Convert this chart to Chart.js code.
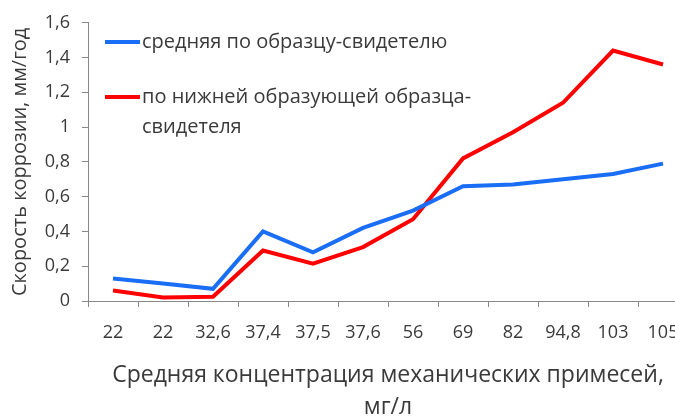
<!DOCTYPE html>
<html>
<head>
<meta charset="utf-8">
<script src="https://cdn.jsdelivr.net/npm/chart.js@4"></script>
<style>
html,body{margin:0;padding:0;background:#fff;overflow:hidden;width:675px;height:416px;}
#wrap{position:absolute;left:0;top:0;width:700px;height:430px;}
</style>
</head>
<body>
<div id="wrap"><canvas id="c" width="700" height="430"></canvas></div>
<script>
const categories = ["22","22","32,6","37,4","37,5","37,6","56","69","82","94,8","103","105"];
const averageSeries = [0.13,0.10,0.07,0.40,0.28,0.42,0.52,0.66,0.67,0.70,0.73,0.79];
const bottomSeries = [0.06,0.02,0.025,0.29,0.215,0.31,0.47,0.82,0.97,1.14,1.44,1.36];
const seriesNames = ["средняя по образцу-свидетелю","по нижней образующей образца-свидетеля"];
const legendLines = [["средняя по образцу-свидетелю"],["по нижней образующей образца-","свидетеля"]];
const yTitle = "Скорость коррозии, мм/год";
const xTitle = ["Средняя концентрация механических примесей,","мг/л"];

const FONT = "'Open Sans', 'Noto Sans', sans-serif";
const TXT = '#3a3a3a';

const legendPlugin = {
  id: 'inlegend',
  afterDraw(chart) {
    const ctx = chart.ctx;
    ctx.save();
    const ys = [42, 97];
    chart.data.datasets.forEach((ds, i) => {
      ctx.strokeStyle = ds.borderColor;
      ctx.lineWidth = 4;
      ctx.beginPath();
      ctx.moveTo(105, ys[i]);
      ctx.lineTo(140, ys[i]);
      ctx.stroke();
      ctx.fillStyle = TXT;
      ctx.font = "20px " + FONT;
      ctx.textBaseline = 'middle';
      ctx.textAlign = 'left';
      legendLines[i].forEach((ln, j) => ctx.fillText(ln, 142, ys[i] + j * 30));
    });
    ctx.restore();
  }
};

new Chart(document.getElementById('c'), {
  type: 'line',
  data: {
    labels: categories,
    datasets: [
      {label: seriesNames[0], data: averageSeries, borderColor: '#1a6ef5', borderWidth: 4, pointRadius: 0, tension: 0, fill: false},
      {label: seriesNames[1], data: bottomSeries, borderColor: '#ff0000', borderWidth: 4, pointRadius: 0, tension: 0, fill: false}
    ]
  },
  plugins: [legendPlugin],
  options: {
    responsive: false,
    animation: false,
    layout: {padding: {top: 21, right: 12, left: 0, bottom: 0}},
    plugins: {legend: {display: false}, tooltip: {enabled: false}},
    scales: {
      x: {
        type: 'category',
        offset: true,
        grid: {offset: true, drawOnChartArea: false, drawTicks: true, tickLength: 6, color: '#888'},
        border: {color: '#888', width: 1},
        ticks: {color: TXT, font: {family: FONT, size: 18}, padding: 15, maxRotation: 0, autoSkip: false},
        title: {display: true, text: xTitle, color: TXT, font: {family: FONT, size: 23, lineHeight: 1.4}, padding: {top: 0, bottom: 6}},
        afterFit(s) { s.height = 129; }
      },
      y: {
        min: 0, max: 1.6,
        ticks: {stepSize: 0.2, color: TXT, font: {family: FONT, size: 18}, padding: 12,
          callback: v => String(Math.round(v * 10) / 10).replace('.', ',')},
        grid: {drawOnChartArea: false, drawTicks: true, tickLength: 6, color: '#888'},
        border: {color: '#888', width: 1},
        title: {display: true, text: yTitle, color: TXT, font: {family: FONT, size: 20}, padding: {top: 8, bottom: 0}},
        afterFit(s) { s.width = 88; }
      }
    }
  }
});
</script>
</body>
</html>
